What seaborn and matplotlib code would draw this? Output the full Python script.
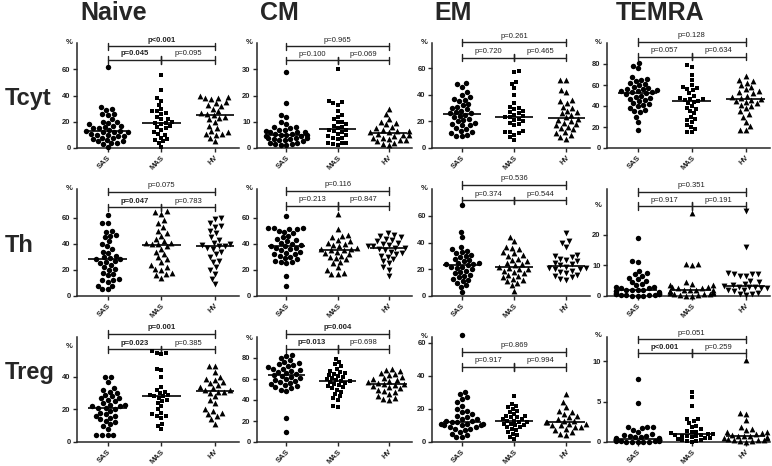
import numpy as np
import pandas as pd
import seaborn as sns
import matplotlib.pyplot as plt

sns.set_style("ticks")
plt.rcParams['font.family'] = ['Liberation Sans', 'DejaVu Sans']

groups = ["SAS", "MAS", "HV"]
subsets = ["Naive", "CM", "EM", "TEMRA"]
cells = ["Tcyt", "Th", "Treg"]

# Tcyt
tcyt_naive_sas = [62, 31, 30, 29, 26, 26, 25, 22, 20, 19, 18, 17, 16, 15, 15, 14, 13, 13, 12, 12, 12, 11, 10, 10, 9, 9, 8, 8, 7, 6, 5, 5, 4, 4, 3, 1, 20, 17]
tcyt_naive_mas = [56, 44, 38, 36, 33, 30, 28, 28, 27, 26, 24, 22, 20, 19, 19, 18, 17, 16, 15, 12, 11, 10, 8, 7, 6, 5, 4, 1, 14, 22]
tcyt_naive_hv = [40, 39, 38, 38, 37, 35, 34, 33, 32, 30, 28, 27, 26, 25, 24, 23, 22, 20, 17, 15, 13, 12, 11, 11, 10, 8, 5]
tcyt_cm_sas = [29, 17, 12.5, 12, 10, 9, 8, 8, 7.5, 7, 7, 6.5, 6, 6, 5.5, 5.5, 5, 5, 5, 4.5, 4.5, 4, 4, 4, 3.5, 3.5, 3, 3, 2.5, 2, 2, 1.5, 1.5, 1, 1, 6]
tcyt_cm_mas = [30, 18, 17.5, 17, 16.5, 14, 12.5, 12, 11, 10, 10, 9, 8.5, 8, 7.5, 7, 7, 6.5, 6, 5.5, 5, 4.5, 4, 4, 3.5, 2, 2, 2, 1.5, 1]
tcyt_cm_hv = [15, 13, 11, 10, 9.5, 9, 8, 7.5, 7, 6.5, 6.5, 6, 6, 5.5, 5, 5, 4.5, 4, 4, 3.5, 3, 3, 2.5, 2, 1.5, 1]
tcyt_em_sas = [49, 48, 46, 42, 40, 38, 37, 36, 35, 33, 32, 31, 30, 29, 28, 27, 26, 26, 25, 24, 23, 22, 21, 20, 19, 18, 17, 15, 14, 13, 12, 11, 10, 9, 9, 17]
tcyt_em_mas = [58, 57, 50, 48, 45, 40, 34, 31, 30, 29, 28, 27, 26, 25, 24, 23, 23, 22, 21, 20, 19, 18, 17, 13, 12, 11, 10, 8, 6, 12]
tcyt_em_hv = [51, 51, 44, 42, 36, 35, 34, 31, 30, 28, 27, 26, 25, 23, 22, 21, 20, 19, 18, 17, 16, 15, 14, 12, 11, 10, 8, 7]
tcyt_temra_sas = [81, 78, 76, 68, 66, 65, 64, 62, 61, 60, 58, 57, 56, 55, 54, 53, 53, 52, 51, 50, 49, 48, 47, 46, 45, 43, 42, 41, 40, 38, 36, 35, 34, 30, 25, 17, 54, 56]
tcyt_temra_mas = [79, 77, 70, 65, 60, 58, 57, 56, 55, 52, 50, 48, 47, 46, 45, 44, 43, 40, 38, 37, 35, 33, 30, 28, 27, 25, 22, 20, 18, 15, 15, 47]
tcyt_temra_hv = [69, 65, 64, 62, 60, 58, 56, 54, 53, 52, 50, 49, 48, 47, 46, 45, 44, 43, 41, 40, 38, 35, 32, 30, 25, 21, 17, 17]

# Th
th_naive_sas = [62, 56, 56, 50, 49, 47, 46, 45, 42, 40, 38, 36, 34, 33, 31, 30, 29, 28, 28, 27, 26, 25, 24, 22, 21, 20, 18, 17, 16, 13, 12, 12, 11, 8, 8, 5, 5]
th_naive_mas = [65, 64, 63, 58, 56, 53, 50, 48, 46, 44, 42, 41, 41, 40, 40, 38, 36, 34, 32, 30, 28, 26, 24, 22, 21, 20, 18, 17, 16, 14]
th_naive_hv = [60, 59, 56, 54, 53, 50, 48, 45, 43, 41, 40, 39, 38, 38, 37, 36, 34, 32, 30, 27, 26, 22, 20, 17, 13, 9]
th_cm_sas = [61, 52, 52, 52, 51, 51, 50, 49, 48, 46, 45, 44, 43, 42, 41, 40, 39, 38, 38, 37, 37, 36, 35, 34, 33, 32, 32, 31, 30, 29, 28, 27, 26, 26, 25, 15, 8]
th_cm_mas = [63, 51, 47, 46, 45, 43, 42, 41, 40, 39, 38, 37, 36, 36, 35, 35, 34, 33, 32, 31, 30, 29, 28, 26, 25, 22, 20, 18, 17, 17]
th_cm_hv = [48, 47, 46, 45, 44, 43, 42, 41, 40, 39, 38, 38, 37, 37, 36, 35, 34, 33, 32, 31, 30, 28, 27, 25, 22, 20, 15]
th_em_sas = [68, 48, 44, 37, 35, 34, 33, 32, 31, 30, 29, 28, 27, 26, 25, 24, 24, 23, 22, 22, 21, 20, 19, 18, 17, 16, 15, 14, 13, 12, 11, 10, 8, 7, 3, 25]
th_em_mas = [44, 41, 37, 36, 35, 33, 32, 31, 30, 28, 27, 26, 25, 24, 23, 22, 21, 20, 20, 19, 18, 17, 16, 15, 14, 13, 12, 11, 10, 8, 4]
th_em_hv = [47, 41, 40, 37, 31, 30, 29, 28, 27, 26, 25, 24, 23, 22, 21, 21, 20, 20, 19, 18, 17, 16, 15, 14, 13, 12]
th_temra_sas = [19, 11.5, 11, 8, 7.5, 7, 6.5, 6, 5.5, 5, 4.5, 4, 3.5, 3, 3, 2.5, 2.5, 2, 2, 2, 1.8, 1.5, 1.5, 1.2, 1, 1, 0.8, 0.8, 0.6, 0.5, 0.4, 0.3, 0.3, 0.2, 0.1, 0.1, 0]
th_temra_mas = [27, 10.5, 10.5, 10, 4.5, 4, 3.5, 3.5, 3, 3, 2.5, 2.5, 2, 2, 2, 1.8, 1.5, 1.5, 1.2, 1, 1, 0.8, 0.5, 0.5, 0.3, 0.2, 0.1, 0]
th_temra_hv = [27.5, 16, 7.5, 7.2, 7, 7, 6.5, 6.5, 5, 4.5, 4, 3.5, 3.2, 3, 3, 2.8, 2.5, 2.5, 2, 1.8, 1.5, 1, 0.8, 0.5, 0.2]

# Treg
treg_naive_sas = [40, 40, 37, 33, 32, 31, 30, 29, 28, 27, 26, 25, 24, 23, 23, 22, 22, 21, 21, 20, 19, 18, 17, 16, 16, 15, 14, 13, 12, 11, 10, 8, 4, 4, 4, 4, 27]
treg_naive_mas = [56, 55, 55, 54, 45, 44, 40, 34, 32, 31, 30, 29, 29, 28, 28, 27, 26, 25, 24, 22, 20, 18, 17, 16, 16, 15, 11, 10, 8]
treg_naive_hv = [47, 47, 43, 40, 39, 38, 37, 36, 35, 34, 33, 32, 32, 31, 31, 30, 28, 26, 24, 20, 19, 18, 17, 16, 14, 11]
treg_cm_sas = [83, 82, 80, 78, 76, 75, 74, 73, 72, 71, 70, 70, 69, 68, 67, 66, 65, 64, 63, 62, 61, 60, 59, 58, 57, 56, 55, 54, 53, 52, 51, 50, 49, 23, 10]
treg_cm_mas = [79, 76, 74, 72, 70, 68, 67, 66, 65, 64, 63, 62, 61, 60, 59, 58, 58, 57, 56, 55, 54, 53, 52, 51, 50, 48, 46, 44, 42, 40, 34, 33]
treg_cm_hv = [70, 69, 68, 66, 65, 64, 62, 61, 60, 59, 58, 57, 56, 55, 55, 54, 53, 52, 51, 50, 49, 48, 46, 44, 42, 41, 40]
treg_em_sas = [65, 30, 29, 27, 26, 24, 22, 20, 19, 18, 17, 16, 15, 14, 14, 13, 13, 12, 12, 11, 11, 11, 10, 10, 10, 9, 9, 8, 8, 7, 6, 5, 4, 3, 3]
treg_em_mas = [28, 23, 22, 21, 20, 19, 18, 17, 16, 16, 15, 15, 14, 14, 13, 13, 12, 12, 11, 11, 10, 10, 9, 9, 8, 7, 6, 5, 4, 3, 2]
treg_em_hv = [29, 24, 21, 19, 18, 17, 16, 15, 14, 13, 13, 12, 12, 11, 11, 10, 10, 9, 9, 8, 7, 6, 5, 4.5]
treg_temra_sas = [7.8, 4.8, 1.9, 1.8, 1.8, 1.7, 1.5, 1.2, 1.0, 0.9, 0.8, 0.7, 0.6, 0.6, 0.5, 0.5, 0.4, 0.4, 0.4, 0.3, 0.3, 0.3, 0.3, 0.2, 0.2, 0.2, 0.2, 0.1, 0.1, 0.1, 0.1, 0.05, 0.05, 0, 0, 0]
treg_temra_mas = [6.2, 5.6, 4.4, 2.9, 2.8, 2.6, 2.3, 2.0, 1.8, 1.6, 1.4, 1.3, 1.2, 1.1, 1.0, 1.0, 0.9, 0.9, 0.8, 0.8, 0.7, 0.6, 0.5, 0.5, 0.4, 0.3, 0.2, 0.1, 0.1, 0]
treg_temra_hv = [10.2, 3.6, 3.5, 2.7, 1.9, 1.6, 1.5, 1.3, 1.2, 1.1, 1.0, 0.9, 0.8, 0.8, 0.7, 0.6, 0.5, 0.5, 0.4, 0.3, 0.3, 0.2, 0.1, 0.1, 0]

values = [
    [(tcyt_naive_sas, tcyt_naive_mas, tcyt_naive_hv), (tcyt_cm_sas, tcyt_cm_mas, tcyt_cm_hv),
     (tcyt_em_sas, tcyt_em_mas, tcyt_em_hv), (tcyt_temra_sas, tcyt_temra_mas, tcyt_temra_hv)],
    [(th_naive_sas, th_naive_mas, th_naive_hv), (th_cm_sas, th_cm_mas, th_cm_hv),
     (th_em_sas, th_em_mas, th_em_hv), (th_temra_sas, th_temra_mas, th_temra_hv)],
    [(treg_naive_sas, treg_naive_mas, treg_naive_hv), (treg_cm_sas, treg_cm_mas, treg_cm_hv),
     (treg_em_sas, treg_em_mas, treg_em_hv), (treg_temra_sas, treg_temra_mas, treg_temra_hv)],
]

# p values: (SAS vs HV, SAS vs MAS, MAS vs HV)
p_labels = [
    [("p<0.001", "p=0.045", "p=0.095"), ("p=0.965", "p=0.100", "p=0.069"),
     ("p=0.261", "p=0.720", "p=0.465"), ("p=0.128", "p=0.057", "p=0.634")],
    [("p=0.075", "p=0.047", "p=0.783"), ("p=0.116", "p=0.213", "p=0.847"),
     ("p=0.536", "p=0.374", "p=0.544"), ("p=0.351", "p=0.917", "p=0.191")],
    [("p=0.001", "p=0.023", "p=0.385"), ("p=0.004", "p=0.013", "p=0.698"),
     ("p=0.869", "p=0.917", "p=0.994"), ("p=0.051", "p<0.001", "p=0.259")],
]
p_bold = [
    [(1, 1, 0), (0, 0, 0), (0, 0, 0), (0, 0, 0)],
    [(0, 1, 0), (0, 0, 0), (0, 0, 0), (0, 0, 0)],
    [(1, 1, 0), (1, 1, 0), (0, 0, 0), (0, 1, 0)],
]

# axis settings
y_max = [[80, 40, 79, 100], [82, 82, 80, 34.8], [64.6, 100, 63.6, 13]]
y_ticks = [
    [[0, 20, 40, 60], [0, 10, 20, 30], [0, 20, 40, 60], [0, 20, 40, 60, 80]],
    [[0, 20, 40, 60], [0, 20, 40, 60], [0, 20, 40, 60], [0, 10, 20]],
    [[0, 20, 40], [0, 20, 40, 60, 80], [0, 20, 40, 60], [0, 5, 10]],
]
bracket_y = [
    [(77.5, 67), (38.7, 33.4), (79.5, 68), (101, 87)],
    [(80, 68), (80.5, 69), (83, 71.5), (33.8, 29.2)],
    [(66.5, 57), (103, 88.6), (54.5, 45.5), (12.7, 11)],
]
pct_y = [[80, 40, 79, 100], [82, 82, 80, 29.5], [59, 99, 63.6, 13.2]]
row_markers = [("o", "s", "^"), ("o", "^", "v"), ("o", "s", "^")]
marker_size = {"o": 3.9, "s": 3.3, "^": 4.2, "v": 4.2}

W, H = 772, 466
col_left = [77, 257, 432, 607]
col_right = [239, 412, 590, 770]
row_top = [43, 189, 337]
row_bottom = [148, 296, 442]

fig = plt.figure(figsize=(W / 100, H / 100), dpi=100)

for r in range(3):
    for c in range(4):
        l, rr = col_left[c], col_right[c]
        t, b = row_top[r], row_bottom[r]
        ax = fig.add_axes([l / W, 1 - b / H, (rr - l) / W, (b - t) / H])
        vals = values[r][c]
        df = pd.DataFrame({
            "group": np.repeat(groups, [len(v) for v in vals]),
            "value": np.concatenate([np.asarray(v, float) for v in vals]),
        })
        for g, m in zip(groups, row_markers[r]):
            sub = df[df["group"] == g]
            sns.swarmplot(data=sub, x="group", y="value", order=groups, marker=m,
                          color="black", size=marker_size[m], linewidth=0, ax=ax,
                          clip_on=False, warn_thresh=1)
        for i, g in enumerate(groups):
            med = df.loc[df["group"] == g, "value"].median()
            ax.hlines(med, i - 0.36, i + 0.36, color="black", lw=1.2, zorder=5)

        ymax = y_max[r][c]
        ax.set_xlim(-0.57, 2.45)
        ax.set_ylim(0, ymax)
        ax.set_yticks(y_ticks[r][c])
        ax.set_xlabel("")
        ax.set_ylabel("")
        sns.despine(ax=ax)
        for s in ["left", "bottom"]:
            ax.spines[s].set_linewidth(1.1)
        ax.tick_params(axis="both", length=3, width=1, labelsize=5.5, pad=1.5)
        ax.set_xticks(range(3))
        ax.set_xticklabels(groups, rotation=45, ha="right", rotation_mode="anchor",
                           fontweight="bold", color="#222222")
        for lbl in ax.get_yticklabels():
            lbl.set_fontweight("bold")
            lbl.set_color("#222222")

        # brackets
        up, low = bracket_y[r][c]
        th = ymax * 0.035
        segs = [(0, 2, up), (0, 1, low), (1, 2, low)]
        for k, (x0, x1, yy) in enumerate(segs):
            ax.plot([x0, x1], [yy, yy], color="#222222", lw=1.0, clip_on=False)
            for xe in (x0, x1):
                ax.plot([xe, xe], [yy - th, yy + th], color="#222222", lw=1.0, clip_on=False)
            ax.text((x0 + x1) / 2, yy + ymax * 0.025, p_labels[r][c][k],
                    ha="center", va="bottom", fontsize=5.5,
                    fontweight="bold" if p_bold[r][c][k] else "normal",
                    color="#222222", clip_on=False)
        ax.text(-0.03, pct_y[r][c], "%", transform=ax.get_yaxis_transform(),
                ha="right", va="center", fontsize=5.5, fontweight="bold", color="#222222")

title_x = [114, 279, 453, 660]
for name, x in zip(subsets, title_x):
    fig.text(x / W, 1 - 13 / H, name, ha="center", va="center", fontsize=18, fontweight="bold")
row_label_y = [99, 246, 372]
for name, y in zip(cells, row_label_y):
    fig.text(5 / W, 1 - y / H, name, ha="left", va="center", fontsize=17, fontweight="bold")

fig.savefig("out.png", dpi=100)
